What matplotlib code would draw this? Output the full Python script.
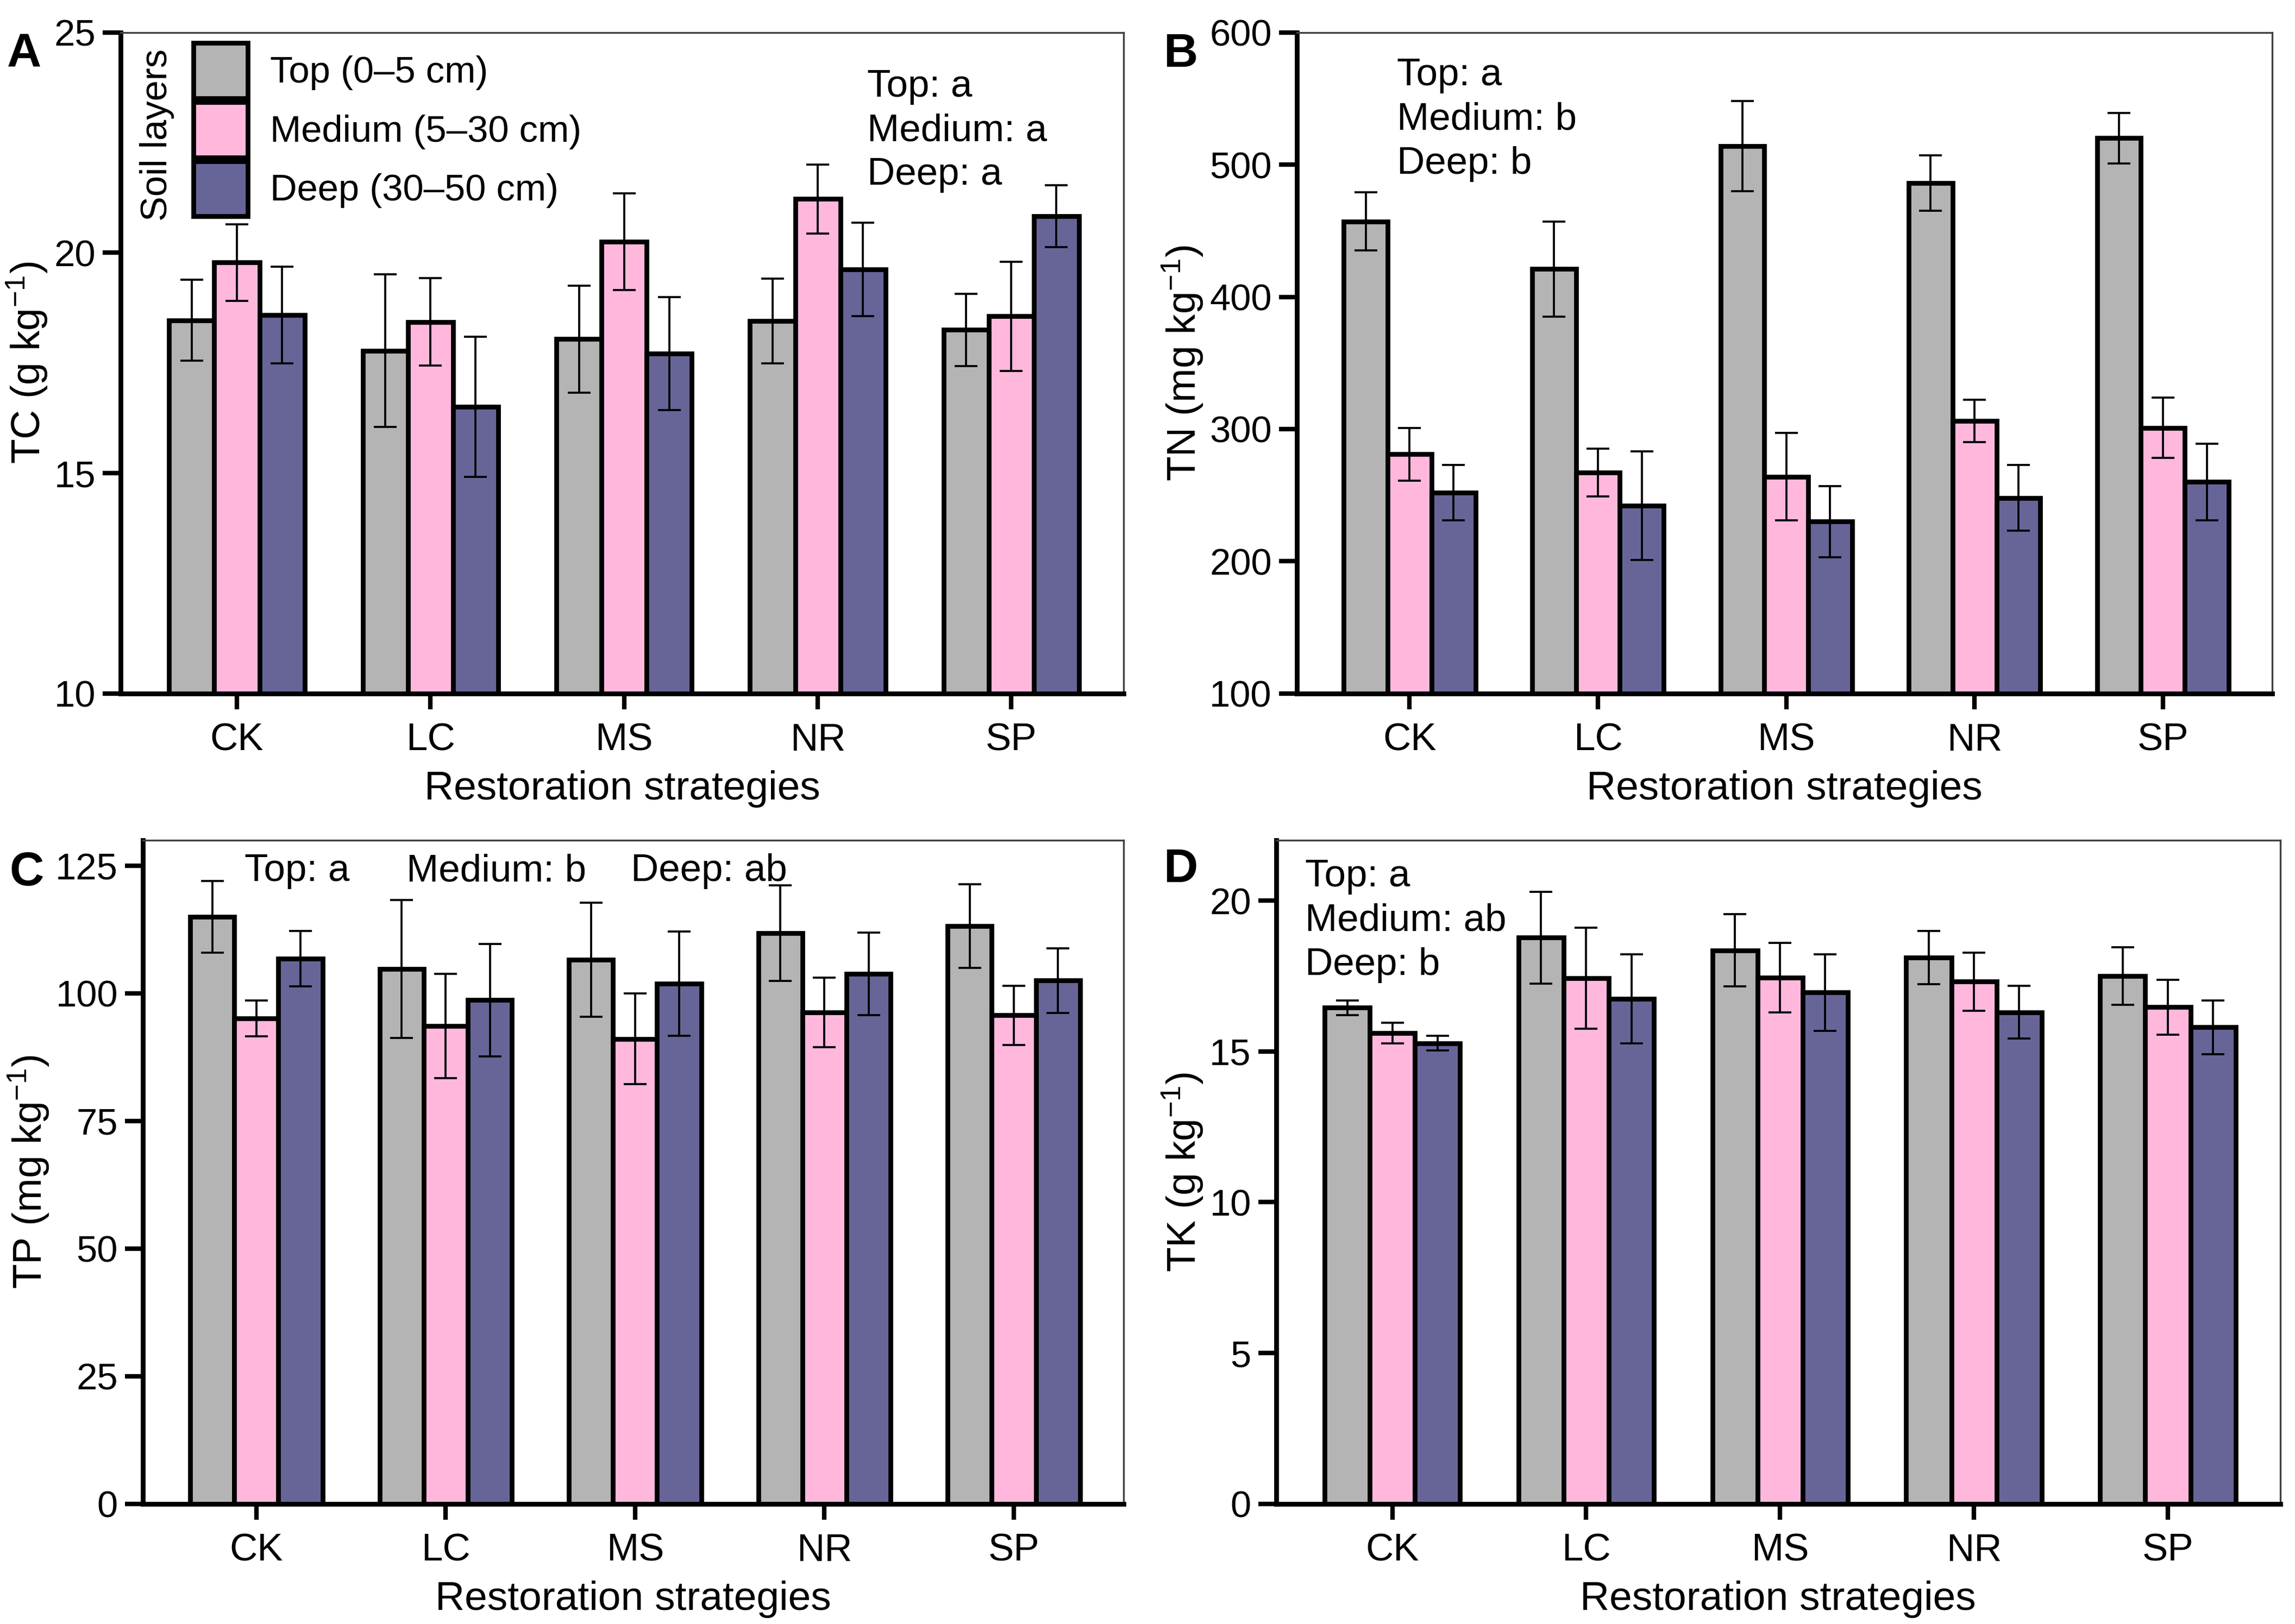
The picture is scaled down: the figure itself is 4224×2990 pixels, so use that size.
import numpy as np
import matplotlib
matplotlib.use("Agg")
import matplotlib.pyplot as plt

plt.rcParams['font.family'] = ['Liberation Sans', 'DejaVu Sans']
plt.rcParams['mathtext.default'] = 'regular'

# ---------------- data ----------------
cats = ['CK', 'LC', 'MS', 'NR', 'SP']
layers = ['Top (0–5 cm)', 'Medium (5–30 cm)', 'Deep (30–50 cm)']

tc_top = [18.47, 17.78, 18.04, 18.45, 18.25]
tc_top_err = [0.92, 1.73, 1.21, 0.96, 0.82]
tc_med = [19.78, 18.43, 20.25, 21.22, 18.56]
tc_med_err = [0.87, 0.99, 1.10, 0.78, 1.24]
tc_deep = [18.59, 16.51, 17.71, 19.62, 20.83]
tc_deep_err = [1.10, 1.59, 1.28, 1.06, 0.70]

tn_top = [457, 421, 514, 486, 520]
tn_top_err = [22, 36, 34, 21, 19]
tn_med = [281, 267, 264, 306, 301]
tn_med_err = [20, 18, 33, 16, 23]
tn_deep = [252, 242, 230, 248, 260]
tn_deep_err = [21, 41, 27, 25, 29]

tp_top = [115.0, 104.8, 106.6, 111.8, 113.2]
tp_top_err = [7.0, 13.5, 11.2, 9.4, 8.2]
tp_med = [95.1, 93.6, 91.1, 96.3, 95.7]
tp_med_err = [3.5, 10.2, 8.9, 6.8, 5.8]
tp_deep = [106.8, 98.7, 101.9, 103.8, 102.5]
tp_deep_err = [5.4, 11.0, 10.2, 8.1, 6.3]

tk_top = [16.45, 18.77, 18.35, 18.11, 17.50]
tk_top_err = [0.24, 1.52, 1.20, 0.89, 0.96]
tk_med = [15.61, 17.43, 17.45, 17.31, 16.47]
tk_med_err = [0.34, 1.68, 1.15, 0.96, 0.91]
tk_deep = [15.27, 16.74, 16.95, 16.30, 15.80]
tk_deep_err = [0.24, 1.47, 1.27, 0.87, 0.89]

colors = ['#B4B4B4', '#FFB8DC', '#676598']

# ---------------- figure ----------------
fig = plt.figure(figsize=(14.08, 9.9667), dpi=300)

panels = [
    # letter, rect, values, errors, ylim, yticks, ylabel, letter pos
    ('A', [0.0526, 0.573, 0.437, 0.407],
     [tc_top, tc_med, tc_deep], [tc_top_err, tc_med_err, tc_deep_err],
     (10, 25), [10, 15, 20, 25], r'TC (g kg$^{-1}$)', (0.003, 0.980)),
    ('B', [0.565, 0.573, 0.425, 0.407],
     [tn_top, tn_med, tn_deep], [tn_top_err, tn_med_err, tn_deep_err],
     (100, 600), [100, 200, 300, 400, 500, 600], r'TN (mg kg$^{-1}$)', (0.507, 0.980)),
    ('C', [0.0622, 0.074, 0.4274, 0.4086],
     [tp_top, tp_med, tp_deep], [tp_top_err, tp_med_err, tp_deep_err],
     (0, 130), [0, 25, 50, 75, 100, 125], r'TP (mg kg$^{-1}$)', (0.004, 0.476)),
    ('D', [0.556, 0.074, 0.4376, 0.4086],
     [tk_top, tk_med, tk_deep], [tk_top_err, tk_med_err, tk_deep_err],
     (0, 22), [0, 5, 10, 15, 20], r'TK (g kg$^{-1}$)', (0.507, 0.478)),
]

x = np.arange(len(cats))
w = 0.233
axes = {}

for letter, rect, vals, errs, ylim, yticks, ylabel, lpos in panels:
    ax = fig.add_axes(rect)
    axes[letter] = ax
    for i in range(3):
        pos = x + (i - 1) * w
        ax.bar(pos, vals[i], width=w, color=colors[i], edgecolor='black',
               linewidth=2.1, zorder=2, label=layers[i])
        ax.errorbar(pos, vals[i], yerr=errs[i], fmt='none', ecolor='black',
                    elinewidth=0.9, capsize=5, capthick=0.9, zorder=3)
    ax.set_xlim(-0.6, 4.58)
    ax.set_ylim(*ylim)
    ax.set_yticks(yticks)
    ax.set_xticks(x)
    ax.set_xticklabels(cats)
    ax.tick_params(axis='y', direction='out', length=8, width=2, labelsize=16.5, pad=3)
    ax.tick_params(axis='x', direction='out', length=7, width=2, labelsize=17, pad=6)
    for s in ['left', 'bottom']:
        ax.spines[s].set_linewidth(2.1)
    for s in ['top', 'right']:
        ax.spines[s].set_linewidth(0.8)
        ax.spines[s].set_color('#404040')
    ax.set_xlabel('Restoration strategies', fontsize=18, labelpad=5)
    ax.set_ylabel(ylabel, fontsize=18, labelpad=2)
    fig.text(lpos[0], lpos[1], letter, fontsize=21, fontweight='bold',
             ha='left', va='top')

# ---------------- legend & annotations ----------------
axA = axes['A']
axA.legend(loc='upper left', bbox_to_anchor=(0.0726, 0.984), frameon=False,
           fontsize=16.5, handlelength=1.45, handleheight=1.9, labelspacing=0.1,
           handletextpad=0.6, borderpad=0, borderaxespad=0)
axA.text(0.036, 0.845, 'Soil layers', rotation=90, fontsize=16.5,
         ha='center', va='center', transform=axA.transAxes)
axA.text(0.744, 0.945, 'Top: a\nMedium: a\nDeep: a', fontsize=17,
         ha='left', va='top', transform=axA.transAxes, linespacing=1.3)

axB = axes['B']
axB.text(0.103, 0.962, 'Top: a\nMedium: b\nDeep: b', fontsize=17,
         ha='left', va='top', transform=axB.transAxes, linespacing=1.3)

axC = axes['C']
for xt, s in zip([0.104, 0.269, 0.4975], ['Top: a', 'Medium: b', 'Deep: ab']):
    axC.text(xt, 0.953, s, fontsize=17, ha='left', va='center',
             transform=axC.transAxes, zorder=1)

axD = axes['D']
axD.text(0.029, 0.972, 'Top: a\nMedium: ab\nDeep: b', fontsize=17,
         ha='left', va='top', transform=axD.transAxes, linespacing=1.3)

fig.savefig('out.png', dpi=300)
